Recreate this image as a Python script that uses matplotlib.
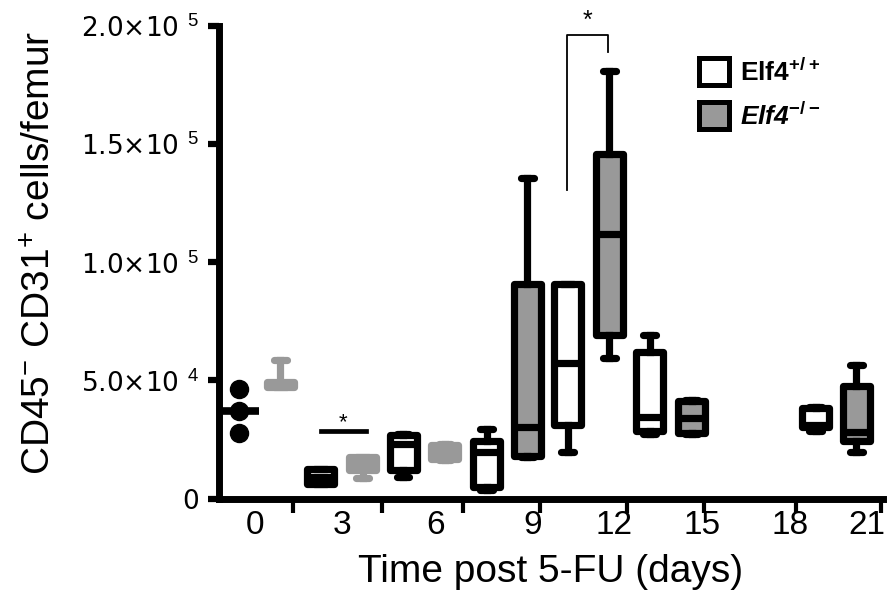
import numpy as np
import matplotlib.pyplot as plt
from matplotlib.patches import Patch

plt.rcParams['font.family'] = ['Liberation Sans', 'DejaVu Sans']
plt.rcParams['mathtext.fontset'] = 'custom'
plt.rcParams['mathtext.rm'] = 'Liberation Sans'
plt.rcParams['mathtext.bf'] = 'Liberation Sans:bold'

# day 0, Elf4+/+ : individual points
day0_pos = -0.55
day0_wt = [46300, 37000, 27700]

# box summaries (Prism min / 25% / median / 75% / max)
box_day = [0.85, 2.2, 3.6, 4.95, 6.35, 7.75, 9.1, 10.45, 11.85, 13.2, 14.6, 18.75, 20.1]
box_geno = ['ko', 'wt', 'ko', 'wt', 'ko', 'wt', 'ko', 'wt', 'ko', 'wt', 'ko', 'wt', 'ko']
box_min = [47000, 6000, 8500, 9300, 16500, 3800, 17500, 19800, 59300, 27500, 27300, 28400, 19800]
box_q1 = [47000, 6300, 12100, 12100, 16700, 4700, 17800, 31200, 69300, 28400, 27700, 30300, 24300]
box_med = [48300, 9300, 14800, 23200, 20000, 19800, 30400, 57200, 112000, 34700, 33900, 31300, 28300]
box_q3 = [49500, 12300, 17400, 26900, 22600, 24400, 90800, 90800, 146000, 62100, 41400, 38100, 47500]
box_max = [58600, 12500, 17600, 27500, 23000, 29300, 135500, 90800, 181000, 69200, 41800, 38600, 56500]

# significance marks
bar_day3 = (2.2, 3.7, 28600)
bracket_day12 = (10.43, 11.81, 130600, 196200, 189000)

tick_marks = [1.26, 4.24, 6.95, 9.53, 12.43, 15.02, 18.09, 20.94]
day_labels = ['0', '3', '6', '9', '12', '15', '18', '21']
label_pos = [0, 2.9, 6.05, 9.3, 12.0, 14.95, 17.9, 20.45]
y_ticks = [0, 50000, 100000, 150000, 200000]
y_labels = ['0', r'5.0×10 $^{4}$', r'1.0×10 $^{5}$', r'1.5×10 $^{5}$', r'2.0×10 $^{5}$']

grey = '#999999'
lw = 5.2

fig = plt.figure(figsize=(8.92, 6.14), dpi=100)
ax = fig.add_axes([0.245, 0.1881, 0.745, 0.7696])

stats = []
for i in range(len(box_day)):
    stats.append(dict(whislo=box_min[i], q1=box_q1[i], med=box_med[i],
                      q3=box_q3[i], whishi=box_max[i], fliers=[]))

groups = [
    ([i for i in range(len(box_day)) if box_geno[i] == 'wt'], 'white', 'black'),
    ([i for i in range(len(box_day)) if box_geno[i] == 'ko' and box_day[i] > 8], grey, 'black'),
    ([i for i in range(len(box_day)) if box_geno[i] == 'ko' and box_day[i] < 8], grey, grey),
]
for idx, fc, ec in groups:
    ax.bxp([stats[i] for i in idx], positions=[box_day[i] for i in idx],
           widths=0.9, capwidths=0.43, patch_artist=True, showfliers=False,
           manage_ticks=False,
           boxprops=dict(facecolor=fc, edgecolor=ec, linewidth=lw, joinstyle='round'),
           whiskerprops=dict(color=ec, linewidth=lw),
           capprops=dict(color=ec, linewidth=lw, solid_capstyle='round'),
           medianprops=dict(color=ec, linewidth=lw, solid_capstyle='butt'))

# day 0 scatter with median
ax.plot([day0_pos] * len(day0_wt), day0_wt, 'o', color='black', ms=13, clip_on=False)
ax.hlines(np.median(day0_wt), day0_pos - 0.67, day0_pos + 0.67, color='black', lw=5.5)

# stars
ax.plot(bar_day3[:2], [bar_day3[2]] * 2, color='black', lw=3.4)
ax.text(np.mean(bar_day3[:2]), bar_day3[2] + 3500, '*', ha='center', va='center', fontsize=16)
x1, x2, y1, ytop, y2 = bracket_day12
ax.plot([x1, x1, x2, x2], [y1, ytop, ytop, y2], color='black', lw=1.3, clip_on=False)
ax.text((x1 + x2) / 2, ytop + 5800, '*', ha='center', va='center', fontsize=18, clip_on=False)

ax.set_xlim(-1.22, 21.0)
ax.set_ylim(0, 200000)
ax.spines['top'].set_visible(False)
ax.spines['right'].set_visible(False)
ax.spines['left'].set_linewidth(5)
ax.spines['bottom'].set_linewidth(5)

ax.set_yticks(y_ticks, y_labels, fontsize=19, family='DejaVu Sans')
ax.tick_params(axis='y', length=8, width=4.5, pad=6)
ax.set_xticks(tick_marks, [''] * len(tick_marks))
ax.set_xticks(label_pos, day_labels, minor=True,
              fontsize=24, family=['Liberation Sans Narrow', 'Liberation Sans'])
ax.tick_params(axis='x', which='major', length=10, width=3)
ax.tick_params(axis='x', which='minor', length=0, pad=8)

ax.set_ylabel(r'CD45$^{-}$ CD31$^{+}$ cells/femur', fontsize=28, va='center')
ax.yaxis.set_label_coords(-0.268, 0.52)
ax.set_xlabel('Time post 5-FU (days)', fontsize=28, va='center')
ax.xaxis.set_label_coords(0.499, -0.1556)

handles = [Patch(facecolor='white', edgecolor='black', linewidth=3.6),
           Patch(facecolor=grey, edgecolor='black', linewidth=3.6)]
labels = [r'Elf4$^{\mathbf{+/+}}$', r'Elf4$^{\mathbf{-/-}}$']
leg = ax.legend(handles, labels, loc='upper left', bbox_to_anchor=(0.7831, 0.906),
                bbox_transform=fig.transFigure, frameon=False,
                prop=dict(family='Liberation Sans', weight='bold', size=19),
                handlelength=1.14, handleheight=1.2, handletextpad=0.45,
                labelspacing=0.62, borderpad=0, borderaxespad=0)
leg.get_texts()[1].set_style('italic')

fig.savefig('out.png', dpi=100)
